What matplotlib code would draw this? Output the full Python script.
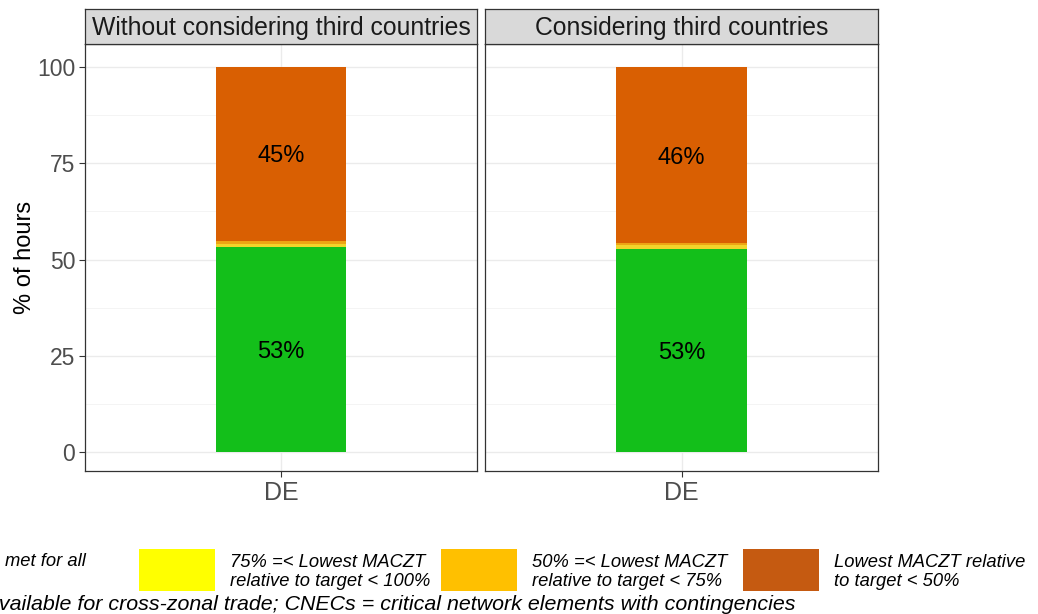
import numpy as np
import matplotlib.pyplot as plt
from matplotlib.patches import Rectangle

plt.rcParams["font.family"] = ["Liberation Sans", "DejaVu Sans"]

# data: share of hours per MACZT class, Germany
panels = ["Without considering third countries", "Considering third countries"]
country = ["DE"]
met_all = [53.3, 52.7]        # target met for all CNECs
pct_75_100 = [0.7, 1.0]       # 75% =< lowest MACZT relative to target < 100%
pct_50_75 = [0.9, 0.5]        # 50% =< lowest MACZT relative to target < 75%
below_50 = [45.1, 45.8]       # lowest MACZT relative to target < 50%
labels_met = ["53%", "53%"]
labels_below = ["45%", "46%"]

bar_colors = ["#13bf1a", "#f2d42a", "#eda514", "#d95f02"]
legend_colors = ["#ffff00", "#ffc000", "#c55a11"]
legend_texts = ["75% =< Lowest MACZT\nrelative to target < 100%",
                "50% =< Lowest MACZT\nrelative to target < 75%",
                "Lowest MACZT relative\nto target < 50%"]

W, H = 1038, 614
fig = plt.figure(figsize=(W / 100, H / 100), dpi=100)

def px_axes(x0, y0, x1, y1, **kw):
    return fig.add_axes([x0 / W, 1 - y1 / H, (x1 - x0) / W, (y1 - y0) / H], **kw)

panel_x = [(85, 477), (485, 878)]
for i, (x0, x1) in enumerate(panel_x):
    ax = px_axes(x0, 44, x1, 471)
    ax.set_xlim(0.4, 1.6)
    ax.set_ylim(-4.95, 106)
    ax.set_yticks([0, 25, 50, 75, 100])
    ax.set_yticks([12.5, 37.5, 62.5, 87.5], minor=True)
    ax.set_xticks([1])
    ax.set_xticklabels(country, fontsize=18)
    ax.grid(True, which="major", color="#ebebeb", linewidth=1.0, zorder=0)
    ax.grid(True, which="minor", axis="y", color="#f3f3f3", linewidth=0.6, zorder=0)
    ax.set_axisbelow(True)
    for s in ax.spines.values():
        s.set_color("#333333")
        s.set_linewidth(0.9)
    ax.tick_params(which="major", length=4, color="#333333", labelcolor="#4d4d4d", pad=3)
    ax.tick_params(axis="y", labelsize=16.5)
    ax.tick_params(which="minor", length=0)

    bottom = 0
    for vals, c in zip([met_all, pct_75_100, pct_50_75, below_50], bar_colors):
        ax.bar(1, vals[i], width=0.4, bottom=bottom, color=c, zorder=2)
        bottom += vals[i]

    ax.text(1, met_all[i] / 2, labels_met[i], ha="center", va="center_baseline",
            fontsize=17, color="black", zorder=3)
    top_start = met_all[i] + pct_75_100[i] + pct_50_75[i]
    ax.text(1, top_start + below_50[i] / 2, labels_below[i], ha="center",
            va="center_baseline", fontsize=17, color="black", zorder=3)

    if i == 0:
        ax.set_ylabel("% of hours", fontsize=17, color="black", labelpad=1)
    else:
        ax.set_yticklabels([])
        ax.tick_params(axis="y", length=0)

    # facet strip
    sx = px_axes(x0, 9, x1, 44)
    sx.set_facecolor("#d9d9d9")
    sx.set_xticks([])
    sx.set_yticks([])
    for s in sx.spines.values():
        s.set_color("#333333")
        s.set_linewidth(0.9)
    sx.text(0.5, 0.47, panels[i], ha="center", va="center", fontsize=17.8,
            color="#1a1a1a", transform=sx.transAxes)

# legend row (drawn in figure pixel coordinates)
fig.text(5 / W, 1 - 561 / H, "met for all", ha="left", va="center",
         fontsize=13.2, style="italic", color="black")
key_x = [139, 441, 743]
for kx, c, t in zip(key_x, legend_colors, legend_texts):
    fig.patches.append(Rectangle((kx / W, 1 - 591 / H), 76 / W, 42 / H,
                                 transform=fig.transFigure, facecolor=c,
                                 edgecolor="none"))
    fig.text((kx + 91) / W, 1 - 572 / H, t, ha="left", va="center",
             fontsize=13.2, style="italic", color="black", linespacing=1.2)

fig.text(-13 / W, 1 - 604 / H,
         "available for cross-zonal trade; CNECs = critical network elements with contingencies",
         ha="left", va="center", fontsize=15.4, style="italic", color="black")

fig.savefig("out.png", dpi=100, facecolor="white")
